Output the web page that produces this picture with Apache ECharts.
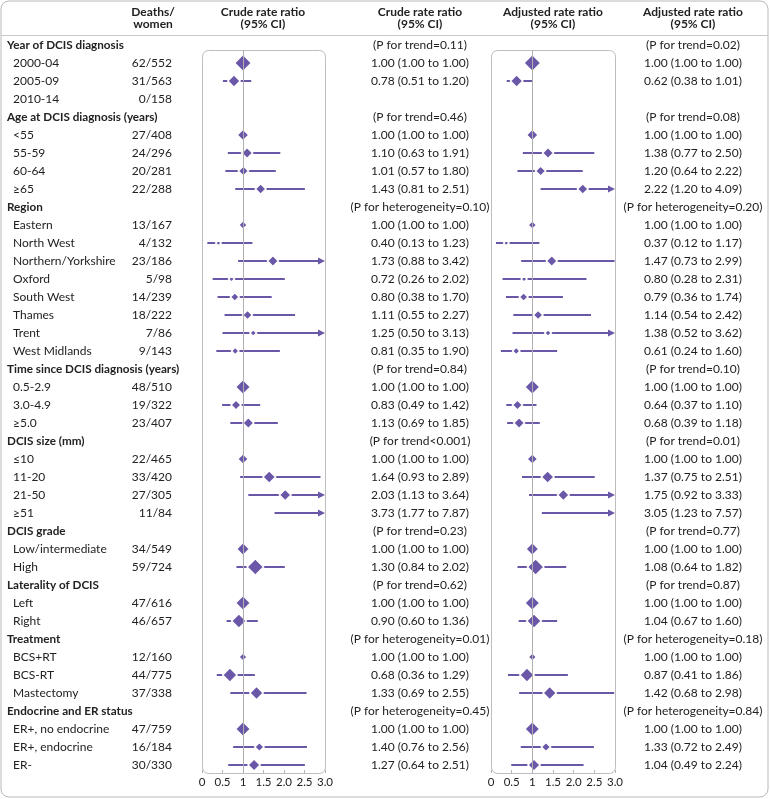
<!DOCTYPE html>
<html>
<head>
<meta charset="utf-8">
<script src="https://cdn.jsdelivr.net/npm/echarts@6/dist/echarts.min.js"></script>
<style>
html,body{margin:0;padding:0;background:#fff;}
#chart{width:770px;height:799px;}
</style>
</head>
<body>
<div id="chart"></div>
<script>
// ---------------- DATA ----------------
const groups = ['Year of DCIS diagnosis','Age at DCIS diagnosis (years)','Region','Time since DCIS diagnosis (years)','DCIS size (mm)','DCIS grade','Laterality of DCIS','Treatment','Endocrine and ER status'];
const groupPCrude = ['(P for trend=0.11)','(P for trend=0.46)','(P for heterogeneity=0.10)','(P for trend=0.84)','(P for trend<0.001)','(P for trend=0.23)','(P for trend=0.62)','(P for heterogeneity=0.01)','(P for heterogeneity=0.45)'];
const groupPAdj = ['(P for trend=0.02)','(P for trend=0.08)','(P for heterogeneity=0.20)','(P for trend=0.10)','(P for trend=0.01)','(P for trend=0.77)','(P for trend=0.87)','(P for heterogeneity=0.18)','(P for heterogeneity=0.84)'];
const categories = [
  ['2000-04','2005-09','2010-14'],
  ['<55','55-59','60-64','≥65'],
  ['Eastern','North West','Northern/Yorkshire','Oxford','South West','Thames','Trent','West Midlands'],
  ['0.5-2.9','3.0-4.9','≥5.0'],
  ['≤10','11-20','21-50','≥51'],
  ['Low/intermediate','High'],
  ['Left','Right'],
  ['BCS+RT','BCS-RT','Mastectomy'],
  ['ER+, no endocrine','ER+, endocrine','ER-']
];
const deaths = [62,31,0, 27,24,20,22, 13,4,23,5,14,18,7,9, 48,19,23, 22,33,27,11, 34,59, 47,46, 12,44,37, 47,16,30];
const women  = [552,563,158, 408,296,281,288, 167,132,186,98,239,222,86,143, 510,322,407, 465,420,305,84, 549,724, 616,657, 160,775,338, 759,184,330];
const crudeRR = [1.00,0.78,null, 1.00,1.10,1.01,1.43, 1.00,0.40,1.73,0.72,0.80,1.11,1.25,0.81, 1.00,0.83,1.13, 1.00,1.64,2.03,3.73, 1.00,1.30, 1.00,0.90, 1.00,0.68,1.33, 1.00,1.40,1.27];
const crudeLo = [1.00,0.51,null, 1.00,0.63,0.57,0.81, 1.00,0.13,0.88,0.26,0.38,0.55,0.50,0.35, 1.00,0.49,0.69, 1.00,0.93,1.13,1.77, 1.00,0.84, 1.00,0.60, 1.00,0.36,0.69, 1.00,0.76,0.64];
const crudeHi = [1.00,1.20,null, 1.00,1.91,1.80,2.51, 1.00,1.23,3.42,2.02,1.70,2.27,3.13,1.90, 1.00,1.42,1.85, 1.00,2.89,3.64,7.87, 1.00,2.02, 1.00,1.36, 1.00,1.29,2.55, 1.00,2.56,2.51];
const adjRR = [1.00,0.62,null, 1.00,1.38,1.20,2.22, 1.00,0.37,1.47,0.80,0.79,1.14,1.38,0.61, 1.00,0.64,0.68, 1.00,1.37,1.75,3.05, 1.00,1.08, 1.00,1.04, 1.00,0.87,1.42, 1.00,1.33,1.04];
const adjLo = [1.00,0.38,null, 1.00,0.77,0.64,1.20, 1.00,0.12,0.73,0.28,0.36,0.54,0.52,0.24, 1.00,0.37,0.39, 1.00,0.75,0.92,1.23, 1.00,0.64, 1.00,0.67, 1.00,0.41,0.68, 1.00,0.72,0.49];
const adjHi = [1.00,1.01,null, 1.00,2.50,2.22,4.09, 1.00,1.17,2.99,2.31,1.74,2.42,3.62,1.60, 1.00,1.10,1.18, 1.00,2.51,3.33,7.57, 1.00,1.82, 1.00,1.60, 1.00,1.86,2.98, 1.00,2.49,2.24];
const tickLabels = ['0','0.5','1','1.5','2.0','2.5','3.0'];
const headers = [['Deaths/','women'],['Crude rate ratio','(95% CI)'],['Crude rate ratio','(95% CI)'],['Adjusted rate ratio','(95% CI)'],['Adjusted rate ratio','(95% CI)']];

// ---------------- LAYOUT ----------------
const PURPLE = '#6a57a8';
const TEXT = '#222';
const FONT = 'Lato, "Noto Sans", sans-serif';
const ROW0 = 45, ROWH = 18;
const AXMAX = 3;
const panelTop = 50, panelBottom = 773;
const panels = [{left:202, width:123}, {left:491, width:124}];
const yMin = (panelTop - ROW0) / ROWH, yMax = (panelBottom - ROW0) / ROWH;
const headerX = [153, 263, 420, 553, 693];

// build rows
const rows = [];
let r = 0, k = 0;
groups.forEach((g, gi) => {
  rows.push({type:'group', row:r, gi}); r++;
  categories[gi].forEach(c => { rows.push({type:'sub', row:r, k, label:c}); r++; k++; });
});
const fmt = v => v.toFixed(2);
const texts = [];
rows.forEach(o => {
  if (o.type === 'group') {
    texts.push({x:7, row:o.row, text:groups[o.gi], align:'left', bold:true});
    texts.push({x:420, row:o.row, text:groupPCrude[o.gi], align:'center'});
    texts.push({x:693, row:o.row, text:groupPAdj[o.gi], align:'center'});
  } else {
    const i = o.k;
    texts.push({x:13, row:o.row, text:o.label, align:'left'});
    texts.push({x:172, row:o.row, text:deaths[i] + '/' + women[i], align:'right'});
    if (crudeRR[i] != null) texts.push({x:420, row:o.row, text:fmt(crudeRR[i]) + ' (' + fmt(crudeLo[i]) + ' to ' + fmt(crudeHi[i]) + ')', align:'center'});
    if (adjRR[i] != null) texts.push({x:693, row:o.row, text:fmt(adjRR[i]) + ' (' + fmt(adjLo[i]) + ' to ' + fmt(adjHi[i]) + ')', align:'center'});
  }
});

function panelData(rr, lo, hi) {
  const ci = [], pts = [];
  rows.forEach(o => {
    if (o.type !== 'sub') return;
    const i = o.k;
    if (rr[i] == null) return;
    if (hi[i] > lo[i]) ci.push([lo[i], hi[i], o.row]);
    pts.push([rr[i], o.row, deaths[i]]);
  });
  return {ci, pts};
}
const pdata = [panelData(crudeRR, crudeLo, crudeHi), panelData(adjRR, adjLo, adjHi)];

const grids = panels.map(p => ({left:p.left, width:p.width, top:panelTop, height:panelBottom - panelTop}));
grids.push({left:0, right:0, top:0, height:799});

const xAxes = panels.map((p, gi) => ({
  type:'value', gridIndex:gi, min:0, max:AXMAX, interval:0.5,
  axisLine:{show:false}, splitLine:{show:false},
  axisTick:{show:true, inside:true, length:3, lineStyle:{color:'#b8b8b8'}},
  axisLabel:{margin:3, fontFamily:FONT, fontSize:11.5, color:TEXT, formatter:v => tickLabels[Math.round(v / 0.5)]}
}));
xAxes.push({type:'value', gridIndex:2, min:0, max:770, show:false});
const yAxes = panels.map((p, gi) => ({type:'value', gridIndex:gi, min:yMin, max:yMax, inverse:true, show:false}));
yAxes.push({type:'value', gridIndex:2, min:-ROW0 / ROWH, max:(799 - ROW0) / ROWH, inverse:true, show:false});

const series = [];
panels.forEach((p, gi) => {
  series.push({
    type:'line', xAxisIndex:gi, yAxisIndex:gi, data:[], z:1, silent:true,
    markLine:{silent:true, symbol:['none','none'], label:{show:false}, lineStyle:{color:'#b0b0b0', width:1, type:'solid'}, data:[{xAxis:1}]}
  });
  series.push({
    type:'custom', xAxisIndex:gi, yAxisIndex:gi, z:3, silent:true,
    data:pdata[gi].ci, encode:{x:[0,1], y:2},
    renderItem:function(params, api) {
      const lo = api.value(0), hi = api.value(1), row = api.value(2);
      const a = api.coord([lo, row]);
      const b = api.coord([Math.min(hi, AXMAX), row]);
      const arrow = hi > AXMAX;
      const children = [{type:'line', shape:{x1:a[0], y1:a[1], x2:arrow ? b[0] - 5 : b[0], y2:b[1]}, style:{stroke:PURPLE, lineWidth:2}}];
      if (arrow) children.push({type:'polygon', shape:{points:[[b[0], b[1]], [b[0] - 7, b[1] - 3.5], [b[0] - 7, b[1] + 3.5]]}, style:{fill:PURPLE}});
      return {type:'group', children};
    }
  });
  series.push({
    type:'scatter', xAxisIndex:gi, yAxisIndex:gi, z:4, silent:true, clip:true,
    data:pdata[gi].pts, symbol:'diamond',
    symbolSize:v => 1.95 * Math.sqrt(v[2]) + 1.5,
    itemStyle:{color:PURPLE, borderColor:'#fff', borderWidth:1.5, opacity:1}
  });
});
series.push({
  type:'custom', xAxisIndex:2, yAxisIndex:2, z:5, silent:true,
  data:texts.map(t => [t.x, t.row]),
  renderItem:function(params, api) {
    const t = texts[params.dataIndex];
    const pt = api.coord([api.value(0), api.value(1)]);
    return {type:'text', x:pt[0], y:pt[1], style:{text:t.text, textAlign:t.align, textVerticalAlign:'middle', fill:TEXT, font:t.bold ? ('bold 11.7px ' + FONT) : ('12px ' + FONT)}};
  }
});

const graphic = [
  {type:'rect', shape:{x:1, y:1, width:767, height:796, r:8}, style:{fill:'none', stroke:'#b8b8b8', lineWidth:1}, z:0},
  {type:'line', shape:{x1:1, y1:35.5, x2:768, y2:35.5}, style:{stroke:'#c8c8c8', lineWidth:1}, z:0}
];
panels.forEach(p => {
  graphic.push({type:'rect', shape:{x:p.left + 0.5, y:panelTop + 0.5, width:p.width, height:panelBottom - panelTop, r:6}, style:{fill:'none', stroke:'#bdbdbd', lineWidth:1}, z:0});
});
headers.forEach((h, i) => {
  h.forEach((line, j) => {
    graphic.push({type:'text', x:headerX[i], y:12 + j * 12, style:{text:line, textAlign:'center', textVerticalAlign:'middle', fill:TEXT, font:'bold 12px ' + FONT}, z:5});
  });
});

const chart = echarts.init(document.getElementById('chart'), null, {renderer:'canvas'});
chart.setOption({animation:false, backgroundColor:'#fff', grid:grids, xAxis:xAxes, yAxis:yAxes, series, graphic});
</script>
</body>
</html>
